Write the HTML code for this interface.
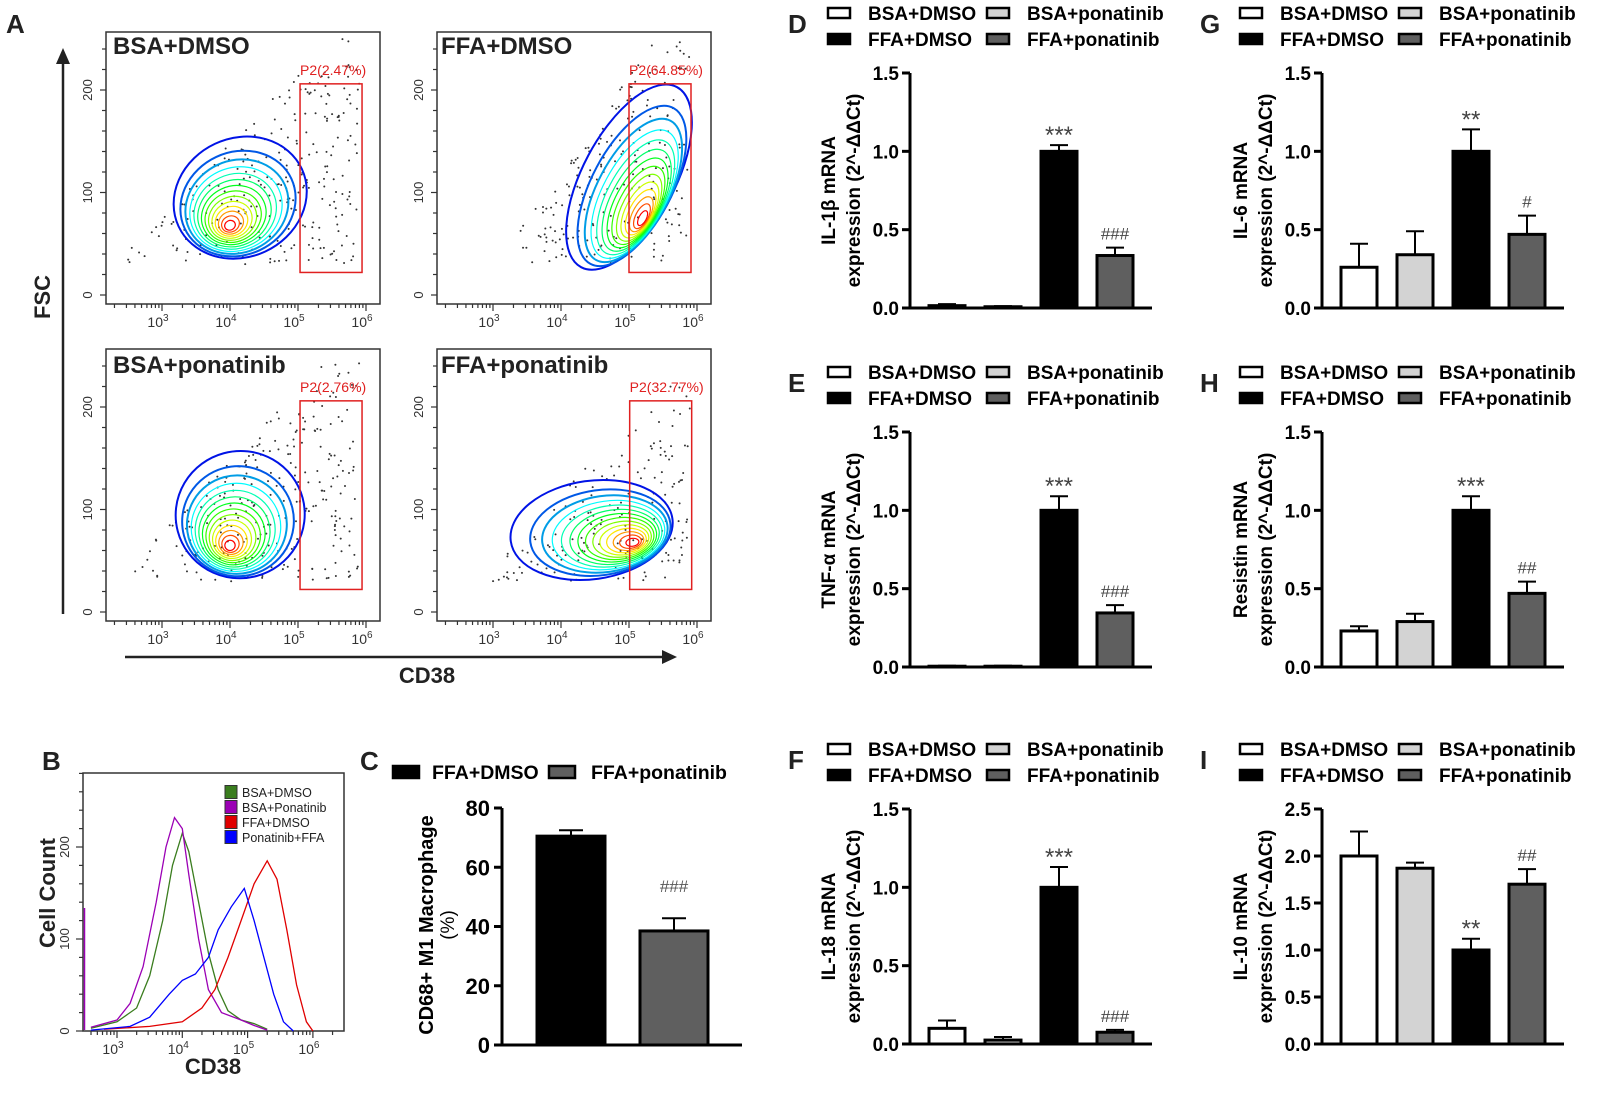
<!DOCTYPE html>
<html><head><meta charset="utf-8"><style>
html,body{margin:0;padding:0;background:#fff;}
svg{display:block;font-family:"Liberation Sans",Arial,sans-serif;}
</style></head><body>
<svg id="fig" width="1606" height="1098" viewBox="0 0 1606 1098" xmlns="http://www.w3.org/2000/svg"></svg>
<script>
// ---------- bar chart data ----------
const barGroups = ['BSA+DMSO','BSA+ponatinib','FFA+DMSO','FFA+ponatinib'];
const barFills = ['#ffffff','#d3d3d3','#000000','#5f5f5f'];
const il1bMeans = [0.015,0.008,1.0,0.335];
const il1bErrs  = [0.01,0.004,0.04,0.05];
const il1bSig   = ['','','***','###'];
const tnfMeans  = [0.005,0.005,1.0,0.345];
const tnfErrs   = [0.003,0.003,0.09,0.05];
const tnfSig    = ['','','***','###'];
const il18Means = [0.1,0.025,1.0,0.075];
const il18Errs  = [0.05,0.02,0.13,0.015];
const il18Sig   = ['','','***','###'];
const il6Means  = [0.26,0.34,1.0,0.47];
const il6Errs   = [0.15,0.15,0.14,0.12];
const il6Sig    = ['','','**','#'];
const resMeans  = [0.23,0.29,1.0,0.47];
const resErrs   = [0.03,0.05,0.09,0.075];
const resSig    = ['','','***','##'];
const il10Means = [2.0,1.87,1.0,1.7];
const il10Errs  = [0.26,0.06,0.12,0.16];
const il10Sig   = ['','','**','##'];
const ticks15 = [0,0.5,1.0,1.5];
const tickLabels15 = ['0.0','0.5','1.0','1.5'];
const ticks25 = [0,0.5,1.0,1.5,2.0,2.5];
const tickLabels25 = ['0.0','0.5','1.0','1.5','2.0','2.5'];
// panel C
const cGroups = ['FFA+DMSO','FFA+ponatinib'];
const cMeans = [70.5,38.5];
const cErrs  = [2.0,4.3];
const cSig   = ['','###'];
const cTicks = [0,20,40,60,80];
// panel B histogram anchors [log10 CD38, count]
const histNames = ['BSA+DMSO','BSA+Ponatinib','FFA+DMSO','Ponatinib+FFA'];
const histColors = ['#3a7d1e','#9b00b5','#e00000','#0000ff'];
const histGreen = [[2.6,3],[3.0,10],[3.3,25],[3.5,60],[3.7,120],[3.85,180],[4.0,215],[4.1,195],[4.25,140],[4.4,85],[4.55,45],[4.7,22],[4.9,12],[5.1,8],[5.3,2]];
const histPurple = [[2.6,4],[3.0,12],[3.2,30],[3.4,70],[3.6,140],[3.75,200],[3.88,232],[4.0,220],[4.1,170],[4.25,100],[4.4,45],[4.6,20],[4.9,12],[5.1,6],[5.3,1]];
const histRed = [[2.8,2],[3.5,5],[4.0,10],[4.3,25],[4.5,45],[4.7,80],[4.9,120],[5.1,160],[5.3,185],[5.45,165],[5.6,110],[5.75,50],[5.9,10],[6.0,0]];
const histBlue = [[2.6,1],[3.2,5],[3.5,15],[3.8,40],[4.0,55],[4.2,62],[4.4,80],[4.55,110],[4.75,135],[4.95,155],[5.1,120],[5.25,80],[5.4,40],[5.55,10],[5.7,0]];
const histTicks = [0,100,200];
// panel A flow plots
const flowTitles = ['BSA+DMSO','FFA+DMSO','BSA+ponatinib','FFA+ponatinib'];
const flowGates = ['P2(2.47%)','P2(64.85%)','P2(2.76%)','P2(32.77%)'];
const flowGateLog = [5.03,5.0,5.03,5.01];
const flowOuter = [[4.15,95],[5.0,115],[4.15,95],[4.45,80]];
const flowInner = [[4.0,68],[5.2,75],[4.0,65],[5.05,68]];
const flowRadii = [[1.0,58],[1.5,45],[0.95,62],[1.2,48]];
const flowRot = [-25,-62,-15,-8];

const NS='http://www.w3.org/2000/svg';
const svg=document.getElementById('fig');
function el(tag,a,p){const e=document.createElementNS(NS,tag);for(const k in a)e.setAttribute(k,a[k]);(p||svg).appendChild(e);return e;}
function txt(s,a,p){const e=el('text',a,p);e.textContent=s;return e;}

// ---------- Panel letters ----------
const letters=[['A',6,33],['B',42,770],['C',360,770],['D',788,33],['E',788,392],['F',788,769],['G',1200,33],['H',1200,392],['I',1200,769]];
letters.forEach(l=>{const t=txt(l[0],{x:l[1],y:l[2],'font-size':26,'font-weight':'bold',fill:'#222'});

});

// ---------- Panel A ----------
let seed=7;function rnd(){seed=(seed*16807)%2147483647;return (seed-1)/2147483646;}
function drawFlow(i){
  const ox=(i%2)*331, oy=Math.floor(i/2)*317;
  const g=el('g',{});
  
  
  const xS=l=>162+ox+(l-3)*68, yS=v=>295+oy-v*1.025;
  const box=el('rect',{x:106+ox,y:32+oy,width:274,height:272,fill:'#fff',stroke:'#333','stroke-width':1.5},g);
  
  
  for(let v=0;v<=240;v+=20){el('line',{x1:106+ox,x2:(v%100==0?100:102)+ox,y1:yS(v),y2:yS(v),stroke:'#333','stroke-width':1.2},g);}
  [0,100,200].forEach(v=>{const t=txt(String(v),{x:92+ox,y:yS(v),'font-size':13,'text-anchor':'middle',fill:'#333',transform:`rotate(-90 ${92+ox} ${yS(v)})`},g);
    });
  for(let d=2;d<6;d++){for(let k=1;k<10;k++){const l=d+Math.log10(k);const x=xS(l);if(x<106+ox||x>380+ox)continue;
    el('line',{x1:x,x2:x,y1:304+oy,y2:304+oy+(k==1?7:4),stroke:'#333','stroke-width':1.2},g);}}
  el('line',{x1:xS(6),x2:xS(6),y1:304+oy,y2:311+oy,stroke:'#333','stroke-width':1.2},g);
  [3,4,5,6].forEach(p=>{const t=txt('10',{x:xS(p)-4,y:327+oy,'font-size':14,'text-anchor':'middle',fill:'#333'},g);
    const s=el('tspan',{dy:-6,'font-size':10},t);s.textContent=String(p);
    });
  // dots
  seed=11+i*97;
  for(let k=0;k<420;k++){const l=2.5+rnd()*3.4, v=30+rnd()*220;
    const lim=(i==1)? 45+(l-3.2)*95 : (i==3? 45+(l-3.0)*70 : 50+(l-2.6)*70);
    const low=(i==1||i==3)? 30 : 30;
    if(v>lim||v<low)continue; if(yS(v)<36+oy||xS(l)<110+ox||xS(l)>376+ox)continue;
    el('circle',{cx:xS(l),cy:yS(v),r:1,fill:'#333'},g);}
  const n=14;
  for(let k=0;k<n;k++){const t=k/(n-1);const s=1-0.92*Math.pow(t,0.75);
    const cl=flowOuter[i][0]+(flowInner[i][0]-flowOuter[i][0])*Math.pow(t,0.6);
    const cv=flowOuter[i][1]+(flowInner[i][1]-flowOuter[i][1])*Math.pow(t,0.6);
    const rx=flowRadii[i][0]*68*s, ry=flowRadii[i][1]*1.025*s;
    const hue=235-235*t;
    const e=el('ellipse',{cx:xS(cl),cy:yS(cv),rx:rx,ry:ry,fill:'none',stroke:`hsl(${hue},100%,${k<3?45:50}%)`,'stroke-width':k<3?2:1.2,transform:`rotate(${flowRot[i]} ${xS(cl)} ${yS(cv)})`},g);
    
    }
  const gx=xS(flowGateLog[i]);
  const gate=el('rect',{x:gx,y:yS(206),width:62,height:yS(22)-yS(206),fill:'none',stroke:'#e02020','stroke-width':1.5},g);
  
  
  const gl=txt(flowGates[i],{x:gx,y:yS(206)-9,'font-size':14,fill:'#e02020'},g);
  
  
  const tt=txt(flowTitles[i],{x:(i%2?110:113)+ox,y:(i<2?54:373),'font-size':24,'font-weight':'bold',fill:'#222'},g);
  
  
}
for(let i=0;i<4;i++)drawFlow(i);
el('line',{x1:63,y1:614,x2:63,y2:62,stroke:'#222','stroke-width':2.5});
el('polygon',{points:'56,64 70,64 63,48',fill:'#222'});
const fsc=txt('FSC',{x:50,y:297,'font-size':22,'font-weight':'bold','text-anchor':'middle',fill:'#222',transform:'rotate(-90 50 297)'});


el('line',{x1:125,y1:657,x2:664,y2:657,stroke:'#222','stroke-width':2.5});
el('polygon',{points:'662,650 662,664 677,657',fill:'#222'});
const cd=txt('CD38',{x:427,y:683,'font-size':22,'font-weight':'bold','text-anchor':'middle',fill:'#222'});



// ---------- Panel B ----------
(function(){
  const xS=l=>117+(l-3)*65.3, yS=c=>1031-c*0.92;
  const fr=el('rect',{x:83,y:773,width:261,height:258,fill:'#fff',stroke:'#333','stroke-width':1.5});
  
  
  for(let v=0;v<=280;v+=20){el('line',{x1:83,x2:v%100==0?76:79,y1:yS(v),y2:yS(v),stroke:'#333','stroke-width':1.2});}
  histTicks.forEach(v=>{const t=txt(String(v),{x:69,y:yS(v),'font-size':13,'text-anchor':'middle',fill:'#333',transform:`rotate(-90 69 ${yS(v)})`});
    });
  for(let d=2;d<7;d++){for(let k=1;k<10;k++){const x=xS(d+Math.log10(k));if(x<83||x>344)continue;
    el('line',{x1:x,x2:x,y1:1031,y2:1031+(k==1?7:4),stroke:'#333','stroke-width':1.2});}}
  [3,4,5,6].forEach(p=>{const t=txt('10',{x:xS(p)-4,y:1054,'font-size':14,'text-anchor':'middle',fill:'#333'});
    const s=el('tspan',{dy:-6,'font-size':10},t);s.textContent=String(p);
    });
  el('line',{x1:84.5,x2:84.5,y1:1030,y2:908,stroke:'#9b00b5','stroke-width':1.5});
  const series=[histGreen,histPurple,histRed,histBlue];
  series.forEach((s,i)=>{const pts=s.map(p=>xS(p[0]).toFixed(1)+','+yS(p[1]).toFixed(1)).join(' ');
    const pl=el('polyline',{points:pts,fill:'none',stroke:histColors[i],'stroke-width':1.3});
    
    });
  histNames.forEach((n,i)=>{const y=792+i*15;
    const r=el('rect',{x:225,y:y-6.5,width:12,height:13,fill:histColors[i],stroke:'#333','stroke-width':1});
    
    const t=txt(n,{x:242,y:y+5,'font-size':12.5,fill:'#222'});
    });
  const yl=txt('Cell Count',{x:55,y:893,'font-size':22,'font-weight':'bold','text-anchor':'middle',fill:'#222',transform:'rotate(-90 55 893)'});
  
  const xl=txt('CD38',{x:213,y:1074,'font-size':22,'font-weight':'bold','text-anchor':'middle',fill:'#222'});
  
})();

// ---------- Panel C ----------
(function(){
  const ax=502,y0=1045,top=808,yS=v=>y0-v/80*(y0-top);
  el('line',{x1:ax,x2:ax,y1:top,y2:y0,stroke:'#000','stroke-width':3});
  el('line',{x1:ax,x2:742,y1:y0,y2:y0,stroke:'#000','stroke-width':3});
  cTicks.forEach(v=>{el('line',{x1:ax-8,x2:ax,y1:yS(v),y2:yS(v),stroke:'#000','stroke-width':3});
    const t=txt(String(v),{x:ax-12,y:yS(v)+8,'font-size':22,'font-weight':'bold','text-anchor':'end',fill:'#000'});
    });
  const fills=['#000','#5f5f5f'];
  cMeans.forEach((m,i)=>{const x=537+i*103,w=68,cx=x+w/2;
    const et=yS(m+cErrs[i]);
    el('line',{x1:cx,x2:cx,y1:yS(m),y2:et,stroke:'#000','stroke-width':2});
    el('line',{x1:cx-12,x2:cx+12,y1:et,y2:et,stroke:'#000','stroke-width':2});
    const b=el('rect',{x:x,y:yS(m),width:w,height:y0-yS(m),fill:fills[i],stroke:'#000','stroke-width':3});
    
    
    if(cSig[i]){const s=txt(cSig[i],{x:cx,y:et-26,'font-size':17,'text-anchor':'middle',fill:'#555'});
      }});
  cGroups.forEach((n,i)=>{const sx=[393,549][i],tx=[432,591][i];
    const r=el('rect',{x:sx,y:766,width:26,height:12,fill:fills[i],stroke:'#000','stroke-width':2.5});
    
    const t=txt(n,{x:tx,y:779,'font-size':19.5,'font-weight':'bold',fill:'#000'});
    });
  const yl=txt('CD68+ M1 Macrophage',{x:433,y:925,'font-size':20,'font-weight':'bold','text-anchor':'middle',fill:'#000',transform:'rotate(-90 433 925)'});
  
  const y2=txt('(%)',{x:454,y:925,'font-size':19,'text-anchor':'middle',fill:'#000',transform:'rotate(-90 454 925)'});
  
})();

// ---------- Panels D-I ----------
const barPanels=[
 {id:'d',ox:0,oy:0,gene:'IL-1β',means:il1bMeans,errs:il1bErrs,sig:il1bSig,max:1.5,ticks:ticks15,labels:tickLabels15},
 {id:'e',ox:0,oy:359,gene:'TNF-α',means:tnfMeans,errs:tnfErrs,sig:tnfSig,max:1.5,ticks:ticks15,labels:tickLabels15},
 {id:'f',ox:0,oy:736,gene:'IL-18',means:il18Means,errs:il18Errs,sig:il18Sig,max:1.5,ticks:ticks15,labels:tickLabels15},
 {id:'g',ox:412,oy:0,gene:'IL-6',means:il6Means,errs:il6Errs,sig:il6Sig,max:1.5,ticks:ticks15,labels:tickLabels15},
 {id:'h',ox:412,oy:359,gene:'Resistin',means:resMeans,errs:resErrs,sig:resSig,max:1.5,ticks:ticks15,labels:tickLabels15},
 {id:'i',ox:412,oy:736,gene:'IL-10',means:il10Means,errs:il10Errs,sig:il10Sig,max:2.5,ticks:ticks25,labels:tickLabels25}
];
barPanels.forEach(p=>{
  const ax=910+p.ox,y0=308+p.oy,top=73+p.oy,yS=v=>y0-v/p.max*(y0-top);
  const g=el('g',{});
  
  
  el('line',{x1:ax,x2:ax,y1:top,y2:y0,stroke:'#000','stroke-width':3},g);
  el('line',{x1:ax,x2:ax+242,y1:y0,y2:y0,stroke:'#000','stroke-width':3},g);
  p.ticks.forEach((v,k)=>{el('line',{x1:ax-8,x2:ax,y1:yS(v),y2:yS(v),stroke:'#000','stroke-width':3},g);
    const t=txt(p.labels[k],{x:ax-11,y:yS(v)+7,'font-size':19,'font-weight':'bold','text-anchor':'end',fill:'#000'},g);
    });
  p.means.forEach((m,i)=>{const x=ax+19+i*56,w=36,cx=x+w/2,et=yS(m+p.errs[i]);
    el('line',{x1:cx,x2:cx,y1:yS(m),y2:et,stroke:'#000','stroke-width':2},g);
    el('line',{x1:cx-9,x2:cx+9,y1:et,y2:et,stroke:'#000','stroke-width':2},g);
    const b=el('rect',{x:x,y:yS(m),width:w,height:Math.max(0,y0-yS(m)),fill:barFills[i],stroke:'#000','stroke-width':3},g);
    
    
    if(p.sig[i]){const star=p.sig[i].indexOf('*')>=0;
      const s=txt(p.sig[i],{x:cx,y:star?et-2:et-8,'font-size':star?24:17,'text-anchor':'middle',fill:'#444'},g);
      }});
  barGroups.forEach((n,i)=>{const col=i%2,row=i<2?0:1;
    const sx=[828,987][col]+p.ox,tx=[868,1027][col]+p.ox,sy=[8,34][row]+p.oy;
    const r=el('rect',{x:sx,y:sy,width:22,height:10,fill:barFills[i],stroke:'#000','stroke-width':2.5},g);
    
    const t=txt(n,{x:tx,y:sy+12,'font-size':19,'font-weight':'bold',fill:'#000'},g);
    });
  const cy=(top+y0)/2;
  const l1=txt(p.gene+' mRNA',{x:835+p.ox,y:cy,'font-size':19,'font-weight':'bold','text-anchor':'middle',fill:'#000',transform:`rotate(-90 ${835+p.ox} ${cy})`},g);
  
  const l2=txt('expression (2^-ΔΔCt)',{x:860+p.ox,y:cy,'font-size':19,'font-weight':'bold','text-anchor':'middle',fill:'#000',transform:`rotate(-90 ${860+p.ox} ${cy})`},g);
  
});
</script>
</body></html>
